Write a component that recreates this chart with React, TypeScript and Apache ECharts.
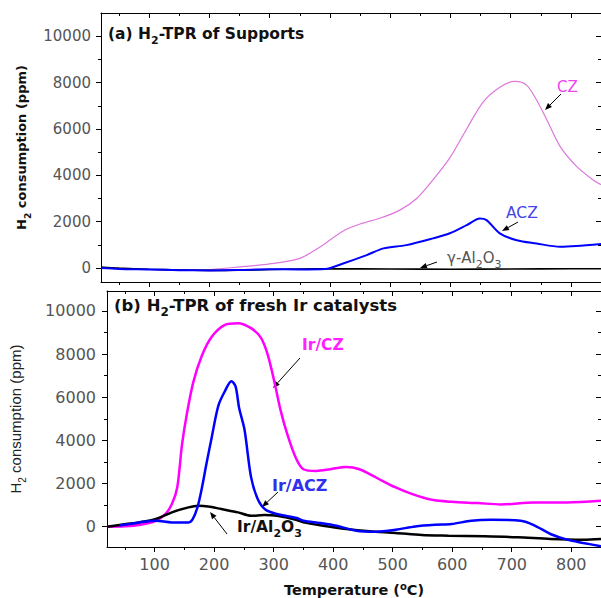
import React, { useEffect, useRef } from "react";
import * as echarts from "echarts";

// ---------- Panel (a): H2-TPR of supports ----------
const czT = [20, 50, 100, 150, 200, 250, 300, 350, 383, 422, 450, 483, 516, 544, 571, 599, 627, 654, 682, 707, 726, 743, 760, 782, 809, 837, 850];
const czV = [0, -30, -60, -80, -60, 50, 180, 420, 900, 1600, 1900, 2150, 2500, 3000, 3800, 4750, 6000, 7150, 7800, 8050, 7900, 7250, 6400, 5250, 4400, 3800, 3600];

const aczT = [20, 50, 100, 150, 200, 250, 300, 350, 392, 422, 461, 489, 527, 571, 599, 627, 649, 660, 682, 710, 743, 782, 809, 850];
const aczV = [0, -40, -60, -90, -100, -80, -50, -60, -40, 200, 560, 850, 990, 1280, 1500, 1850, 2140, 2070, 1500, 1200, 1060, 920, 950, 1040];

const alT = [20, 50, 100, 150, 200, 250, 300, 350, 400, 500, 600, 700, 800, 850];
const alV = [50, 0, -50, -80, -100, -90, -60, -40, -30, -40, -50, -40, -30, -30];

// ---------- Panel (b): H2-TPR of fresh Ir catalysts ----------
const irCzT = [20, 50, 74, 102, 118, 129, 138, 146, 154, 165, 179, 196, 218, 240, 262, 279, 290, 301, 312, 323, 337, 350, 372, 395, 422, 444, 472, 505, 533, 566, 599, 643, 682, 737, 793, 850];
const irCzV = [0, 20, 78, 277, 586, 1047, 1818, 3800, 5200, 6700, 7900, 8800, 9354, 9430, 9200, 8740, 7970, 6740, 5355, 4278, 3203, 2663, 2585, 2663, 2770, 2663, 2280, 1818, 1510, 1246, 1154, 1094, 1033, 1126, 1126, 1200];

const irAczT = [41, 74, 102, 129, 157, 164, 172, 179, 187, 196, 207, 218, 229, 236, 242, 251, 262, 273, 286, 306, 339, 350, 378, 405, 439, 472, 505, 538, 571, 599, 632, 665, 715, 737, 765, 793, 820, 850];
const irAczV = [60, 200, 277, 200, 200, 350, 900, 1740, 2900, 4150, 5600, 6276, 6740, 6500, 5500, 4500, 2300, 1300, 800, 586, 400, 277, 170, 46, -185, -230, -140, 15, 92, 125, 277, 323, 277, 78, -337, -600, -752, -905];

const irAlT = [20, 52, 74, 102, 129, 157, 173, 190, 212, 240, 262, 284, 306, 339, 350, 383, 422, 461, 505, 549, 594, 654, 710, 765, 820, 850];
const irAlV = [0, 125, 200, 355, 665, 895, 970, 940, 817, 665, 508, 540, 508, 310, 200, 46, -108, -215, -290, -385, -415, -445, -490, -568, -600, -568];

// ---------- Axes ----------
const xMajorTicks = [100, 200, 300, 400, 500, 600, 700, 800];
const xMinorTicks = [50, 150, 250, 350, 450, 550, 650, 750, 850];
const yMajorTicks = [0, 2000, 4000, 6000, 8000, 10000];
const yMinorTicks = [1000, 3000, 5000, 7000, 9000];
const X_MIN = 20;
const X_MAX = 850;
const A_MIN = -600;
const A_MAX = 11000;
const B_MIN = -940;
const B_MAX = 10920;

const FONT = "DejaVu Sans";

function pairs(t: number[], v: number[]) {
  return t.map((x, i) => [x, v[i]]);
}

function makeAxes(
  dim: "x" | "y",
  gridIndex: number,
  min: number,
  max: number,
  major: number[],
  minor: number[],
  label: any,
  name: any
) {
  const isX = dim === "x";
  const pos0 = isX ? "bottom" : "left";
  const pos1 = isX ? "top" : "right";
  const base = (position: string, ticks: number[], len: number, inside: boolean, line: boolean, lab: any, nm: any) => ({
    type: "value",
    gridIndex,
    min,
    max,
    position,
    axisLine: { show: line, onZero: false, lineStyle: { color: "#000", width: 1 } },
    axisTick: { show: true, inside, length: len, customValues: ticks, lineStyle: { color: "#000", width: 1 } },
    axisLabel: lab ? { ...lab, customValues: major, formatter: (v: number) => String(v) } : { show: false },
    splitLine: { show: false },
    ...(nm || {}),
  });
  return [
    base(pos0, major, 5, false, true, label, name),
    base(pos0, minor, 3, false, false, null, null),
    base(pos1, major, 5, true, true, null, null),
    base(pos1, minor, 3, true, false, null, null),
  ];
}

function arrow(x1: number, y1: number, x2: number, y2: number, color = "#000") {
  const dx = x2 - x1;
  const dy = y2 - y1;
  const L = Math.hypot(dx, dy);
  const ux = dx / L;
  const uy = dy / L;
  const hl = 7;
  const hw = 2.8;
  const bx = x2 - ux * hl;
  const by = y2 - uy * hl;
  return [
    { type: "line", silent: true, shape: { x1, y1, x2: bx, y2: by }, style: { stroke: color, lineWidth: 1 } },
    {
      type: "polygon",
      silent: true,
      shape: { points: [[x2, y2], [bx - uy * hw, by + ux * hw], [bx + uy * hw, by - ux * hw]] },
      style: { fill: color },
    },
  ];
}

function richText(x: number, y: number, text: string, size: number, weight: string, color: string) {
  return {
    type: "text",
    silent: true,
    x,
    y,
    style: {
      text,
      verticalAlign: "middle",
      align: "left",
      rich: {
        n: { fontFamily: FONT, fontSize: size, fontWeight: weight, fill: color, verticalAlign: "bottom", padding: [0, 0, 4, 0], lineHeight: size + 6 },
        s: { fontFamily: FONT, fontSize: Math.round(size * 0.7), fontWeight: weight, fill: color, verticalAlign: "bottom", padding: [0, 0, 0, 0], lineHeight: size + 6 },
      },
    },
  };
}

export default function App() {
  const ref = useRef<HTMLDivElement>(null);
  useEffect(() => {
    document.body.style.margin = "0";
    if (!ref.current) return;
    const chart = echarts.init(ref.current, undefined, { renderer: "svg" });

    const lab = (size: number) => ({ show: true, color: "#555", fontFamily: FONT, fontSize: size, margin: 10 });

    const yNameA = {
      name: "{n|H}{s|2}{n| consumption (ppm)}",
      nameLocation: "middle",
      nameGap: 62,
      nameTextStyle: {
        rich: {
          n: { fontFamily: FONT, fontSize: 13, fontWeight: "bold", color: "#111", verticalAlign: "bottom", padding: [0, 0, 4, 0], lineHeight: 20 },
          s: { fontFamily: FONT, fontSize: 9, fontWeight: "bold", color: "#111", verticalAlign: "bottom", lineHeight: 20 },
        },
      },
    };
    const yNameB = {
      name: "{n|H}{s|2}{n| consumption (ppm)}",
      nameLocation: "middle",
      nameGap: 80,
      nameTextStyle: {
        rich: {
          n: { fontFamily: "Liberation Sans", fontSize: 15, color: "#222", verticalAlign: "bottom", padding: [0, 0, 4, 0], lineHeight: 20 },
          s: { fontFamily: "Liberation Sans", fontSize: 10, color: "#222", verticalAlign: "bottom", lineHeight: 20 },
        },
      },
    };
    const xNameB = {
      name: "{n|Temperature (}{p|o}{n|C)}",
      nameLocation: "middle",
      nameGap: 32,
      nameTextStyle: {
        rich: {
          n: { fontFamily: FONT, fontSize: 14.5, fontWeight: "bold", color: "#111", verticalAlign: "bottom", lineHeight: 18 },
          p: { fontFamily: FONT, fontSize: 10, fontWeight: "bold", color: "#111", verticalAlign: "bottom", padding: [0, 0, 6, 0], lineHeight: 18 },
        },
      },
    };

    const xA = makeAxes("x", 0, X_MIN, X_MAX, xMajorTicks, xMinorTicks, null, null);
    const yA = makeAxes("y", 0, A_MIN, A_MAX, yMajorTicks, yMinorTicks, lab(15), yNameA);
    const xB = makeAxes("x", 1, X_MIN, X_MAX, xMajorTicks, xMinorTicks, { ...lab(16), margin: 9 }, xNameB);
    const yB = makeAxes("y", 1, B_MIN, B_MAX, yMajorTicks, yMinorTicks, { ...lab(16), margin: 11 }, yNameB);

    const line = (xi: number, data: number[][], color: string, width: number, z = 2) => ({
      type: "line",
      xAxisIndex: xi,
      yAxisIndex: xi,
      data,
      showSymbol: false,
      symbol: "none",
      smooth: 0.3,
      z,
      lineStyle: { color, width },
      itemStyle: { color },
    });

    const graphic: any[] = [
      richText(108, 35, "{n|(a) H}{s|2}{n|-TPR of Supports}", 15.5, "bold", "#111"),
      richText(114, 307, "{n|(b) H}{s|2}{n|-TPR of fresh Ir catalysts}", 16.5, "bold", "#111"),
      { type: "text", silent: true, x: 557, y: 87, style: { text: "CZ", fontFamily: FONT, fontSize: 15, fill: "#ee44ee", verticalAlign: "middle" } },
      ...arrow(561, 94, 545, 110),
      { type: "text", silent: true, x: 506, y: 213, style: { text: "ACZ", fontFamily: FONT, fontSize: 15.5, fill: "#4444ee", verticalAlign: "middle" } },
      ...arrow(518, 222, 502, 231),
      richText(447, 259, "{n|γ-Al}{s|2}{n|O}{s|3}", 15, "normal", "#555"),
      ...arrow(437, 262, 420, 268),
      { type: "text", silent: true, x: 302, y: 345, style: { text: "Ir/CZ", fontFamily: FONT, fontSize: 15.5, fontWeight: "bold", fill: "#ff22ff", verticalAlign: "middle" } },
      ...arrow(300, 358, 273, 388),
      { type: "text", silent: true, x: 272, y: 485, style: { text: "Ir/ACZ", fontFamily: FONT, fontSize: 16, fontWeight: "bold", fill: "#2f2fee", verticalAlign: "middle" } },
      ...arrow(278, 492, 262, 507),
      richText(237, 528, "{n|Ir/Al}{s|2}{n|O}{s|3}", 15.5, "bold", "#111"),
      ...arrow(227, 534, 210, 512),
    ];

    chart.setOption({
      animation: false,
      backgroundColor: "#fff",
      grid: [
        { left: 101, top: 13, right: 0, height: 269 },
        { left: 102, top: 291, right: 0, height: 257 },
      ],
      xAxis: [...xA, ...xB],
      yAxis: [...yA, ...yB],
      series: [
        line(0, pairs(czT, czV), "#dd77dd", 1.2, 2),
        line(0, pairs(alT, alV), "#000000", 1.6, 3),
        line(0, pairs(aczT, aczV), "#0000ff", 2, 4),
        line(4, pairs(irCzT, irCzV), "#ff00ff", 2.5, 2),
        line(4, pairs(irAlT, irAlV), "#000000", 2.5, 3),
        line(4, pairs(irAczT, irAczV), "#0000ff", 2.5, 4),
      ],
      graphic,
    });
    return () => chart.dispose();
  }, []);
  return <div ref={ref} style={{ width: 601, height: 598 }} />;
}
